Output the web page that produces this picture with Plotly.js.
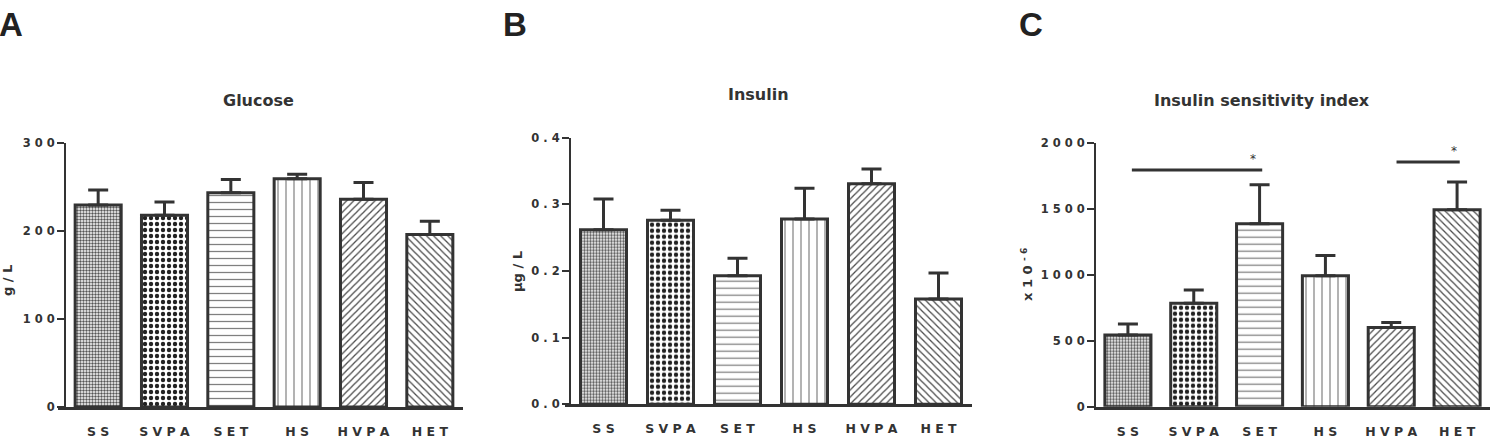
<!DOCTYPE html>
<html>
<head>
<meta charset="utf-8">
<script src="https://cdn.plot.ly/plotly-3.0.1.min.js"></script>
<style>
  html, body { margin: 0; padding: 0; background: #fff; }
  #chart { width: 1499px; height: 448px; }
</style>
</head>
<body>
<div id="chart"></div>
<script>
// ---- data ----
const categories = ['SS', 'SVPA', 'SET', 'HS', 'HVPA', 'HET'];
const tickLabels = ['S S', 'S V P A', 'S E T', 'H S', 'H V P A', 'H E T'];

const glucoseMean = [229.5, 218, 243.5, 259.5, 236, 196];
const glucoseSem  = [17, 15, 15, 5, 19, 15];

const insulinMean = [0.262, 0.276, 0.193, 0.278, 0.331, 0.158];
const insulinSem  = [0.046, 0.015, 0.026, 0.046, 0.022, 0.039];

const isiMean = [544, 784, 1386, 992, 600, 1492];
const isiSem  = [83, 101, 296, 154, 37, 211];

const glucoseTicks = [0, 100, 200, 300];
const glucoseTickText = ['0', '1 0 0', '2 0 0', '3 0 0'];
const insulinTicks = [0, 0.1, 0.2, 0.3, 0.4];
const insulinTickText = ['0 . 0', '0 . 1', '0 . 2', '0 . 3', '0 . 4'];
const isiTicks = [0, 500, 1000, 1500, 2000];
const isiTickText = ['0', '5 0 0', '1 0 0 0', '1 5 0 0', '2 0 0 0'];

// significance brackets in panel C (category index positions, value)
const sigX0 = [0.06, 4.08];
const sigX1 = [2.04, 5.04];
const sigY  = [1794, 1854];
const starX = [1.90, 4.95];
const starY = [1879, 1935];

// ---- styles ----
const W = 1499, H = 448;
const DARK = '#333333';
const FONT = 'DejaVu Sans';
const patShapes = ['.', '.', '-', '|', '/', '\\'];
const patSizes = [3, 6, 7, 8, 5, 5];
const patSolid = [0.5, 0.42, 0.18, 0.15, 0.25, 0.25];
const patColor = ['#555555', '#222222', '#808080', '#808080', '#4a4a4a', '#4a4a4a'];

function px(x) { return x / W; }
function py(y) { return 1 - y / H; }

function barTrace(vals, sems, xa, ya, width) {
  return {
    type: 'bar',
    x: categories,
    y: vals,
    xaxis: xa, yaxis: ya,
    width: width,
    marker: {
      color: '#ffffff',
      line: { color: DARK, width: 3 },
      pattern: {
        shape: patShapes, size: patSizes, solidity: patSolid,
        fgcolor: patColor, bgcolor: '#ffffff', fgopacity: 1, fillmode: 'replace'
      }
    },
    error_y: {
      type: 'data', symmetric: false, array: sems,
      arrayminus: sems.map(() => 0),
      color: DARK, thickness: 3, width: 10
    },
    hoverinfo: 'skip',
    showlegend: false
  };
}

const traces = [
  barTrace(glucoseMean, glucoseSem, 'x', 'y', 0.694),
  barTrace(insulinMean, insulinSem, 'x2', 'y2', 0.687),
  barTrace(isiMean, isiSem, 'x3', 'y3', 0.70)
];

function xAxis(d0, d1, r0, anchor) {
  return {
    domain: [px(d0), px(d1)],
    range: [r0, 5.5],
    anchor: anchor,
    type: 'category',
    showline: true, linewidth: 3, linecolor: DARK,
    ticks: 'outside', ticklen: 11, tickcolor: 'rgba(0,0,0,0)',
    tickvals: categories, ticktext: tickLabels,
    tickfont: { family: FONT, size: 12.5, weight: 'bold', color: DARK },
    showgrid: false, zeroline: false, fixedrange: true
  };
}
function yAxis(top, bottom, pos, range, tv, tt) {
  return {
    domain: [py(bottom), py(top)],
    range: range,
    anchor: 'free', position: px(pos),
    showline: true, linewidth: 2, linecolor: DARK,
    ticks: 'outside', ticklen: 7, tickwidth: 2, tickcolor: DARK,
    tickvals: tv, ticktext: tt,
    tickfont: { family: FONT, size: 11.5, weight: 'bold', color: DARK },
    showgrid: false, zeroline: false, fixedrange: true
  };
}

const layout = {
  width: W, height: H,
  margin: { l: 0, r: 0, t: 0, b: 0 },
  paper_bgcolor: '#ffffff', plot_bgcolor: 'rgba(0,0,0,0)',
  showlegend: false,
  xaxis:  xAxis(58, 463, -0.5 - 7 / 66.33, 'y'),
  yaxis:  yAxis(143, 407, 65, [0, 300], glucoseTicks, glucoseTickText),
  xaxis2: xAxis(565, 972, -0.5 - 5 / 67, 'y2'),
  yaxis2: yAxis(137.7, 404.3, 570, [0, 0.4], insulinTicks, insulinTickText),
  xaxis3: xAxis(1094, 1490, -0.5 - 1 / 65.83, 'y3'),
  yaxis3: yAxis(142.7, 406.7, 1095, [0, 2000], isiTicks, isiTickText),
  shapes: sigX0.map((x0, i) => ({
    type: 'line', xref: 'x3', yref: 'y3',
    x0: x0, x1: sigX1[i], y0: sigY[i], y1: sigY[i],
    line: { color: DARK, width: 3 }
  })),
  annotations: [
    // panel letters
    { text: 'A', x: px(11), y: py(25) },
    { text: 'B', x: px(515), y: py(25) },
    { text: 'C', x: px(1031), y: py(25) }
  ].map(a => Object.assign(a, {
    xref: 'paper', yref: 'paper', xanchor: 'center', yanchor: 'middle',
    showarrow: false, font: { family: 'Liberation Sans', size: 33, weight: 'bold', color: '#222' }
  })).concat([
    // panel titles
    { text: 'Glucose', x: px(258), y: py(100) },
    { text: 'Insulin', x: px(758), y: py(95) },
    { text: 'Insulin sensitivity index', x: px(1262), y: py(100) }
  ].map(a => Object.assign(a, {
    xref: 'paper', yref: 'paper', xanchor: 'center', yanchor: 'middle',
    showarrow: false, font: { family: FONT, size: 16, weight: 'bold', color: DARK }
  }))).concat([
    // y titles
    { text: 'g / L', x: px(7), y: py(281) },
    { text: 'µg / L', x: px(517), y: py(272) },
    { text: 'x 1 0 <sup>- 6</sup>', x: px(1027), y: py(275) }
  ].map(a => Object.assign(a, {
    xref: 'paper', yref: 'paper', xanchor: 'center', yanchor: 'middle', textangle: -90,
    showarrow: false, font: { family: FONT, size: 13, weight: 'bold', color: DARK }
  }))).concat(starX.map((sx, i) => ({
    text: '*', xref: 'x3', yref: 'y3', x: sx, y: starY[i],
    xanchor: 'center', yanchor: 'middle', showarrow: false,
    font: { family: FONT, size: 12, color: '#333333' }
  })))
};

Plotly.newPlot('chart', traces, layout, { staticPlot: true, displayModeBar: false });
</script>
</body>
</html>
